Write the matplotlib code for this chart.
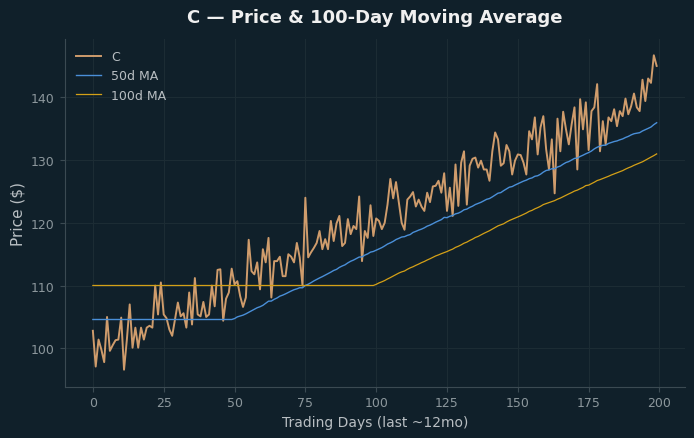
import numpy as np
import pandas as pd
import matplotlib
matplotlib.use("Agg")
import matplotlib.pyplot as plt

ticker = "C"

# closing prices, one per trading day
price = [
    102.8, 97.1, 101.4, 99.8, 97.8, 105.0, 99.6, 100.5, 101.3, 101.4,
    104.9, 96.6, 101.4, 107.0, 100.1, 103.3, 100.1, 103.3, 101.4, 103.3,
    103.6, 103.3, 110.0, 105.4, 110.5, 105.4, 104.8, 103.0, 102.0, 104.6,
    107.3, 105.1, 105.6, 103.3, 108.9, 103.8, 111.2, 105.4, 105.1, 107.4,
    105.0, 105.4, 110.0, 106.7, 112.5, 112.6, 104.4, 107.9, 108.9, 112.7,
    110.2, 110.7, 108.3, 106.6, 108.1, 117.3, 112.3, 111.8, 113.7, 109.4,
    115.8, 113.7, 117.6, 108.1, 113.9, 113.9, 114.6, 111.5, 111.5, 115.0,
    114.6, 113.7, 116.8, 114.5, 110.0, 124.0, 114.5, 115.3, 116.0, 116.8,
    118.7, 115.8, 117.4, 115.8, 120.3, 117.1, 119.9, 121.1, 116.3, 116.8,
    120.6, 118.2, 119.5, 119.0, 124.2, 113.9, 118.7, 117.6, 122.8, 117.9,
    120.7, 120.3, 119.0, 120.0, 122.9, 127.0, 123.9, 126.5, 123.2, 120.0,
    118.9, 123.7, 124.2, 124.9, 122.6, 123.7, 122.6, 121.9, 124.8, 123.3,
    125.8, 125.9, 126.7, 124.8, 127.9, 121.9, 125.6, 121.1, 129.3, 122.7,
    129.6, 131.4, 122.9, 129.1, 130.2, 130.4, 128.8, 129.9, 128.5, 128.5,
    126.7, 131.4, 134.4, 133.3, 129.1, 129.5, 132.4, 131.4, 127.7, 129.9,
    130.9, 130.8, 129.6, 127.7, 134.6, 133.3, 136.8, 130.9, 135.2, 137.0,
    131.7, 128.5, 133.3, 124.7, 136.6, 131.4, 137.7, 134.9, 132.5, 135.7,
    138.4, 128.5, 139.7, 134.9, 139.2, 131.6, 137.8, 138.4, 142.1, 131.4,
    136.2, 132.5, 136.8, 136.2, 138.1, 135.4, 137.8, 137.0, 139.8, 137.3,
    138.6, 140.6, 138.4, 137.8, 142.8, 139.4, 143.0, 142.3, 146.7, 145.0,
]

days = np.arange(len(price))
s = pd.Series(price)
ma50 = s.rolling(50).mean().bfill()
ma100 = s.rolling(100).mean().bfill()

bg = "#10202a"
fig, ax = plt.subplots(figsize=(6.94, 4.39), dpi=100)
fig.patch.set_facecolor(bg)
ax.set_facecolor(bg)

ax.plot(days, price, color="#cf9c6c", lw=1.4, label=ticker)
ax.plot(days, ma50, color="#4a8fd8", lw=1.0, label="50d MA")
ax.plot(days, ma100, color="#d4a017", lw=0.9, label="100d MA")

ax.set_xlim(-10, 209)
ax.set_ylim(93.9, 149.3)
ax.set_yticks([100, 110, 120, 130, 140])
ax.set_xticks([0, 25, 50, 75, 100, 125, 150, 175, 200])

ax.grid(True, color="#1c2c34", lw=0.8)
ax.set_axisbelow(True)
for side in ["top", "right"]:
    ax.spines[side].set_visible(False)
for side in ["left", "bottom"]:
    ax.spines[side].set_color("#3b4a52")
ax.tick_params(colors="#3b4a52", labelcolor="#8c979c", labelsize=9)

ax.set_title(f"{ticker} — Price & 100-Day Moving Average", color="#f0f0f0",
             fontsize=13, fontweight="bold", pad=12)
ax.set_xlabel("Trading Days (last ~12mo)", color="#b8bec2", fontsize=10)
ax.set_ylabel("Price ($)", color="#b8bec2", fontsize=11)

leg = ax.legend(loc="upper left", frameon=False, fontsize=9)
for t in leg.get_texts():
    t.set_color("#b8bec2")

fig.subplots_adjust(left=0.093, right=0.987, top=0.909, bottom=0.117)
fig.savefig("out.png", dpi=100, facecolor=bg)
